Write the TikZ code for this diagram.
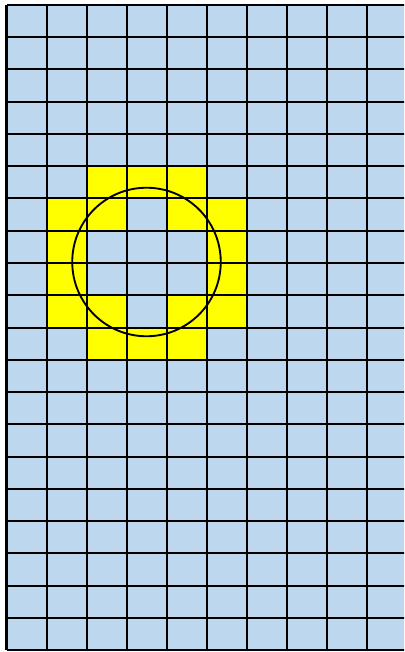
\documentclass[tikz,border=0pt]{standalone}
\usepackage{tikz}
\definecolor{cellblue}{RGB}{189,215,238}
\definecolor{hityellow}{RGB}{255,255,0}

\begin{document}
\begin{tikzpicture}[x=0.04cm, y=-0.04cm]
    % Define styles
    \tikzstyle{cell} = [fill=cellblue]
    \tikzstyle{hitcell} = [fill=hityellow]
    \tikzstyle{gridline} = [draw=black, line width=0.08cm]
    \tikzstyle{ring} = [draw=black, line width=0.075cm]

    \useasboundingbox (0,0) rectangle (404,652);
    \clip (0,0) rectangle (404,652);

    % Cells
    \foreach \c in {0,...,9}
        \foreach \r in {0,...,19}
            \path [cell] ({6.5+40*\c},{5+32.25*\r}) rectangle ++(40,32.25);

    % Cells touched by the circle
    \foreach \c/\r in {2/5,3/5,4/5,1/6,2/6,4/6,5/6,1/7,5/7,1/8,5/8,1/9,2/9,4/9,5/9,2/10,3/10,4/10}
        \path [hitcell] ({6.5+40*\c},{5+32.25*\r}) rectangle ++(40,32.25);

    % Grid lines
    \foreach \c in {0,...,10}
        \draw [gridline] ({6.5+40*\c},5) -- ({6.5+40*\c},650);
    \foreach \r in {0,...,20}
        \draw [gridline] (6.5,{5+32.25*\r}) -- (406.5,{5+32.25*\r});

    % Circle
    \draw [ring] (146.5,262) circle [radius=2.97cm];
\end{tikzpicture}
\end{document}
